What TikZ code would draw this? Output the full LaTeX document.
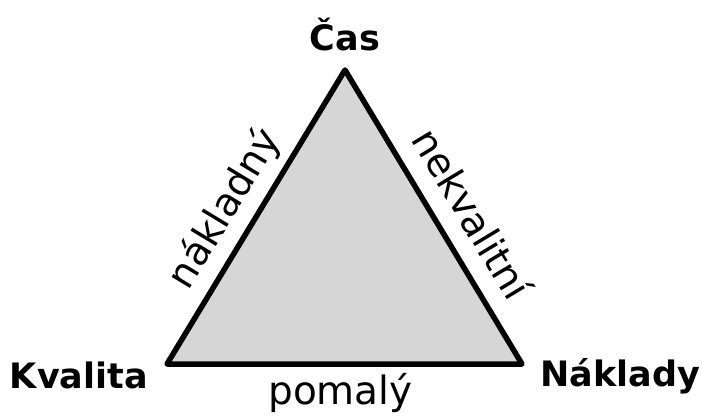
\documentclass[tikz,border=0pt]{standalone}
\usepackage{fontspec}
\setmainfont{DejaVu Sans}
\usetikzlibrary{positioning}
\begin{document}
\begin{tikzpicture}[x=1pt,y=-1pt,
  vertex/.style={font=\fontsize{35}{42}\selectfont\bfseries, inner sep=0pt},
  side/.style={font=\fontsize{39}{46}\selectfont, inner sep=0pt, anchor=base}]
\useasboundingbox (0,0) rectangle (702,418);
% corners of the triangle
\coordinate (kvalita) at (167,364);
\coordinate (cas) at (345,70);
\coordinate (naklady) at (522,364);
\draw[line width=5.5pt, line join=round, fill=black!16] (kvalita)
 -- node[side, sloped, pos=0.474, yshift=19pt] (naklSide) {nákladný} (cas)
 -- node[side, sloped, pos=0.55, yshift=20pt] (nekvSide) {nekvalitní} (naklady)
 -- node[side, yshift=-40pt, xshift=-4pt] (pomSide) {pomalý} cycle;
% corner labels
\node[vertex, above=20pt of cas, anchor=base] (casLbl) {Čas};
\node[vertex, left=19pt of kvalita, anchor=base east, yshift=-24pt] (kvalLbl) {Kvalita};
\node[vertex, right=18pt of naklady, anchor=base west, yshift=-22pt] (naklLbl) {Náklady};
\end{tikzpicture}
\end{document}
